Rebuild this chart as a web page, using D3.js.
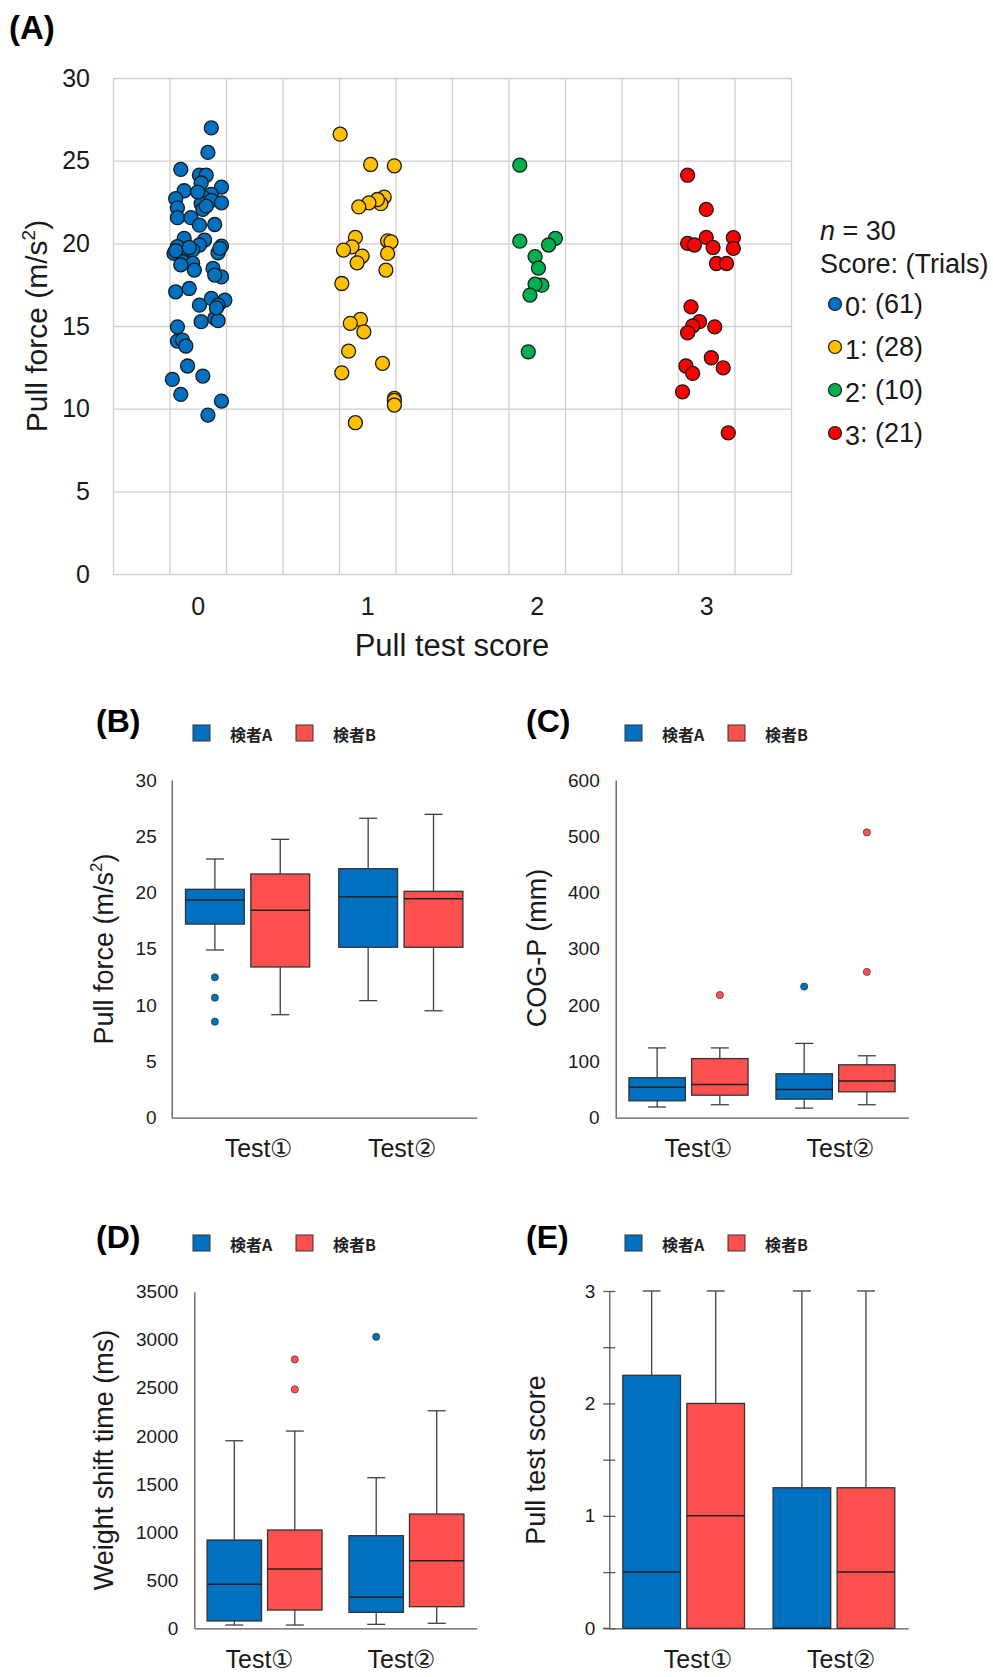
<!DOCTYPE html>
<html>
<head>
<meta charset="utf-8">
<script src="https://cdn.jsdelivr.net/npm/d3@7"></script>
<style>
  body { margin: 0; background: #fff; }
  svg { display: block; font-family: "Liberation Sans", Arial, "Noto Sans CJK JP", sans-serif; }
</style>
</head>
<body>
<svg id="fig" width="993" height="1677"></svg>
<script>
// ---- (A) scatter data: [x position (score + jitter), pull force] ----
const scoreCats = [0, 1, 2, 3];
const scoreColors = ["#0070C0", "#FFC000", "#00B050", "#FF0000"];
const trials = [61, 28, 10, 21];
const score0 = [[0.08,26.98],[0.06,25.5],[-0.10,24.47],[0.01,24.12],[0.05,24.12],[0.02,23.65],[0.14,23.4],[-0.08,23.18],
  [-0.13,22.7],[0.08,22.96],[0.03,22.8],[0.02,22.4],[0.08,22.6],[0.14,22.45],[-0.12,22.15],[0.03,22.05],[-0.12,21.55],
  [-0.04,21.55],[0.01,21.1],[0.10,21.14],[-0.08,20.3],[0.04,20.2],[0.14,19.83],[-0.14,19.39],[-0.08,19.39],[0.01,19.9],
  [-0.03,19.6],[0.12,19.43],[-0.12,19.8],[-0.09,18.9],[-0.03,18.8],[-0.02,18.38],[0.09,18.48],[0.14,17.97],[0.10,18.08],
  [-0.13,17.07],[-0.05,17.27],[0.01,16.26],[0.08,16.67],[0.16,16.56],[0.12,16.26],[0.02,15.26],[0.10,15.46],[0.12,15.32],
  [-0.12,14.95],[-0.12,14.09],[-0.09,14.15],[-0.07,13.79],[-0.06,12.58],[-0.15,11.77],[0.03,11.97],[-0.10,10.86],
  [0.14,10.46],[0.06,9.61],[-0.13,19.55],[-0.05,19.75],[0.00,23.1],[0.05,22.25],[0.11,16.1],[-0.10,18.7],[0.13,19.7]];
const score1 = [[0.84,26.6],[1.02,24.77],[1.16,24.69],[1.10,22.8],[1.08,22.4],[1.06,22.65],[1.01,22.45],[0.95,22.2],
  [0.93,20.36],[1.12,20.15],[1.14,20.09],[0.91,19.79],[0.86,19.59],[0.97,19.23],[0.94,18.82],[1.12,19.39],[1.11,18.38],
  [0.85,17.57],[0.96,15.4],[0.90,15.16],[0.98,14.65],[0.89,13.48],[1.09,12.74],[0.85,12.17],[1.16,10.62],[1.16,10.5],
  [1.16,10.22],[0.93,9.15]];
const score2 = [[1.90,24.73],[1.90,20.13],[2.11,20.3],[2.07,19.9],[1.99,19.2],[2.01,18.5],[2.03,17.47],[1.99,17.53],
  [1.96,16.87],[1.95,13.44]];
const score3 = [[2.89,24.12],[3.00,22.05],[2.89,20.0],[2.93,19.9],[3.00,20.36],[3.04,19.75],[3.16,20.34],[3.16,19.69],
  [3.06,18.78],[3.12,18.78],[2.91,16.16],[2.96,15.26],[2.92,15.0],[2.89,14.59],[3.05,14.95],[3.03,13.08],[2.88,12.58],
  [2.92,12.13],[3.10,12.47],[2.86,11.02],[3.13,8.54]];
const scatterSeries = [score0, score1, score2, score3];

// ---- (B)-(E) box plots ----
const tests = ["Test①", "Test②"];
const examiners = ["検者A", "検者B"];
const boxColors = ["#0070C0", "#FF5050"];

const forceBox = [
  { test: "Test①", ex: "検者A", lo: 14.9, q1: 17.2, med: 19.34, q3: 20.29, hi: 22.98, out: [12.47, 10.66, 8.53] },
  { test: "Test①", ex: "検者B", lo: 9.15, q1: 13.39, med: 18.42, q3: 21.65, hi: 24.73, out: [] },
  { test: "Test②", ex: "検者A", lo: 10.4, q1: 15.14, med: 19.63, q3: 22.12, hi: 26.6, out: [] },
  { test: "Test②", ex: "検者B", lo: 9.5, q1: 15.14, med: 19.46, q3: 20.11, hi: 26.95, out: [] }
];
const cogBox = [
  { test: "Test①", ex: "検者A", lo: 19, q1: 30, med: 54, q3: 71, hi: 124, out: [] },
  { test: "Test①", ex: "検者B", lo: 23, q1: 40, med: 59, q3: 105, hi: 124, out: [218] },
  { test: "Test②", ex: "検者A", lo: 17, q1: 33, med: 50, q3: 78, hi: 132, out: [233] },
  { test: "Test②", ex: "検者B", lo: 23, q1: 46, med: 65, q3: 94, hi: 110, out: [507, 259] }
];
const shiftBox = [
  { test: "Test①", ex: "検者A", lo: 34, q1: 76, med: 457, q3: 918, hi: 1950, out: [] },
  { test: "Test①", ex: "検者B", lo: 34, q1: 190, med: 616, q3: 1022, hi: 2051, out: [2796, 2484] },
  { test: "Test②", ex: "検者A", lo: 41, q1: 166, med: 322, q3: 963, hi: 1566, out: [3031] },
  { test: "Test②", ex: "検者B", lo: 52, q1: 225, med: 703, q3: 1188, hi: 2262, out: [] }
];
const scoreBox = [
  { test: "Test①", ex: "検者A", lo: 0, q1: 0, med: 0.5, q3: 2.25, hi: 3, out: [] },
  { test: "Test①", ex: "検者B", lo: 0, q1: 0, med: 1, q3: 2, hi: 3, out: [] },
  { test: "Test②", ex: "検者A", lo: 0, q1: 0, med: 0, q3: 1.25, hi: 3, out: [] },
  { test: "Test②", ex: "検者B", lo: 0, q1: 0, med: 0.5, q3: 1.25, hi: 3, out: [] }
];

const svg = d3.select("#fig");
const ink = "#1a1a1a";

// ================= (A) =================
{
  const L = 113, R = 791, T = 78, B = 574;
  const x = d3.scaleLinear().domain([-0.5, 3.5]).range([L, R]);
  const y = d3.scaleLinear().domain([0, 30]).range([B, T]);
  const g = svg.append("g");

  // grid (vertical every 1/3 score)
  const gridX = d3.range(13).map(k => -0.5 + k / 3);
  g.append("g").attr("transform", `translate(0,${B})`)
    .call(d3.axisBottom(x).tickValues(gridX).tickSize(-(B - T)).tickFormat(""))
    .call(a => a.select(".domain").remove())
    .selectAll("line").attr("stroke", "#d0d0d0").attr("stroke-width", 1.3);
  g.append("g").attr("transform", `translate(${L},0)`)
    .call(d3.axisLeft(y).tickValues(d3.range(0, 31, 5)).tickSize(-(R - L)).tickFormat(""))
    .call(a => a.select(".domain").remove())
    .selectAll("line").attr("stroke", "#d0d0d0").attr("stroke-width", 1.3);

  // tick labels
  g.append("g").attr("transform", `translate(${L},0)`)
    .call(d3.axisLeft(y).tickValues(d3.range(0, 31, 5)).tickSize(0).tickPadding(23))
    .call(a => a.select(".domain").remove())
    .selectAll("text").attr("font-size", 25).attr("fill", ink).attr("font-family", null);
  g.append("g").attr("transform", `translate(0,${B})`)
    .call(d3.axisBottom(x).tickValues(scoreCats).tickFormat(d3.format("d")).tickSize(0).tickPadding(23))
    .call(a => a.select(".domain").remove())
    .selectAll("text").attr("font-size", 25).attr("fill", ink).attr("font-family", null);

  // points
  scatterSeries.forEach((pts, i) => {
    g.append("g").selectAll("circle").data(pts).enter().append("circle")
      .attr("cx", d => x(d[0])).attr("cy", d => y(d[1])).attr("r", 7)
      .attr("fill", scoreColors[i]).attr("stroke", ink).attr("stroke-width", 1.3);
  });

  // titles
  svg.append("text").attr("x", 9).attr("y", 39).attr("font-size", 33).attr("font-weight", "bold").text("(A)");
  svg.append("text").attr("x", 452).attr("y", 656).attr("text-anchor", "middle").attr("font-size", 31)
    .attr("fill", ink).text("Pull test score");
  const yt = svg.append("text").attr("transform", "translate(47,326) rotate(-90)")
    .attr("text-anchor", "middle").attr("font-size", 30).attr("fill", ink);
  yt.append("tspan").text("Pull force (m/s");
  yt.append("tspan").attr("font-size", 19).attr("dy", -12).text("2");
  yt.append("tspan").attr("dy", 12).text(")");

  // legend
  const lg = svg.append("g").attr("font-size", 27).attr("fill", ink);
  const nt = lg.append("text").attr("x", 820).attr("y", 240);
  nt.append("tspan").attr("font-style", "italic").text("n");
  nt.append("tspan").text(" = 30");
  lg.append("text").attr("x", 820).attr("y", 273).text("Score: (Trials)");
  scoreCats.forEach((s, i) => {
    const cy = 304 + i * 43;
    lg.append("circle").attr("cx", 835).attr("cy", cy).attr("r", 6.5)
      .attr("fill", scoreColors[i]).attr("stroke", ink).attr("stroke-width", 1.2);
    const t = lg.append("text").attr("x", 845).attr("y", cy + 9);
    t.append("tspan").attr("dy", 3).text(s);
    t.append("tspan").attr("dy", -3).text(`: (${trials[i]})`);
  });
}

// ================= box plot panels =================
function boxPanel(cfg) {
  const g = svg.append("g");
  const y = d3.scaleLinear().domain(cfg.domain).range([cfg.yBottom, cfg.yTop]);
  const x0 = d3.scaleBand().domain(tests).range([cfg.axisX, cfg.axisRight]).paddingInner(0.19).paddingOuter(0.09);
  const x1 = d3.scaleBand().domain(examiners).range([0, x0.bandwidth()]).paddingInner(0.1);
  const color = d3.scaleOrdinal().domain(examiners).range(boxColors);
  const bw = x1.bandwidth(), cap = 9;

  // y axis
  const ya = g.append("g").attr("transform", `translate(${cfg.axisX},0)`)
    .call(d3.axisLeft(y).tickValues(cfg.ticks).tickSizeOuter(0)
      .tickSizeInner(cfg.tickMarks ? 6 : 0).tickPadding(cfg.tickPad)
      .tickFormat(d => cfg.labelEvery ? (Number.isInteger(d) ? d : "") : d));
  ya.select(".domain").attr("stroke", "#595959").attr("stroke-width", 1.3);
  ya.selectAll("line").attr("stroke", "#595959").attr("stroke-width", 1.3).attr("x1", cfg.tickMarks ? 6 : 0);
  ya.selectAll("text").attr("font-size", 19).attr("fill", ink).attr("font-family", null);

  // x axis
  const xa = g.append("g").attr("transform", `translate(0,${cfg.yBottom})`)
    .call(d3.axisBottom(x0).tickSize(0).tickPadding(22));
  xa.select(".domain").attr("stroke", "#595959").attr("stroke-width", 1.3);
  xa.selectAll("text").attr("font-size", 25).attr("fill", ink).attr("font-family", null)
    .attr("dx", (d, i) => cfg.labelDx[i]);
  if (cfg.tickMarks) {
    g.append("line").attr("x1", cfg.axisX - 6).attr("x2", cfg.axisX)
      .attr("y1", cfg.yBottom).attr("y2", cfg.yBottom).attr("stroke", "#595959").attr("stroke-width", 1.3);
  }

  // boxes
  const bx = g.selectAll(".bx").data(cfg.data).enter().append("g")
    .attr("transform", d => `translate(${x0(d.test) + x1(d.ex)},0)`);
  bx.append("line").attr("x1", bw / 2).attr("x2", bw / 2)
    .attr("y1", d => y(d.hi)).attr("y2", d => y(d.q3)).attr("stroke", "#404040").attr("stroke-width", 1.3);
  bx.append("line").attr("x1", bw / 2).attr("x2", bw / 2)
    .attr("y1", d => y(d.q1)).attr("y2", d => y(d.lo)).attr("stroke", "#404040").attr("stroke-width", 1.3);
  bx.append("line").attr("x1", bw / 2 - cap).attr("x2", bw / 2 + cap)
    .attr("y1", d => y(d.hi)).attr("y2", d => y(d.hi)).attr("stroke", "#404040").attr("stroke-width", 1.3);
  bx.filter(d => d.lo < d.q1).append("line").attr("x1", bw / 2 - cap).attr("x2", bw / 2 + cap)
    .attr("y1", d => y(d.lo)).attr("y2", d => y(d.lo)).attr("stroke", "#404040").attr("stroke-width", 1.3);
  bx.append("rect").attr("x", 0).attr("width", bw)
    .attr("y", d => y(d.q3)).attr("height", d => y(d.q1) - y(d.q3))
    .attr("fill", d => color(d.ex)).attr("stroke", "#333").attr("stroke-width", 1.3);
  bx.append("line").attr("x1", 0).attr("x2", bw)
    .attr("y1", d => y(d.med)).attr("y2", d => y(d.med)).attr("stroke", "#222").attr("stroke-width", 1.5);
  bx.selectAll("circle").data(d => d.out.map(v => ({ v, ex: d.ex }))).enter().append("circle")
    .attr("cx", bw / 2).attr("cy", d => y(d.v)).attr("r", 3.6)
    .attr("fill", d => color(d.ex)).attr("stroke", "#333").attr("stroke-width", 0.7);

  // panel label
  svg.append("text").attr("x", cfg.labelX).attr("y", cfg.labelY)
    .attr("font-size", 32).attr("font-weight", "bold").attr("fill", "#000").text(cfg.label);

  // legend
  examiners.forEach((e, i) => {
    const lx = cfg.legendX + i * 103;
    svg.append("rect").attr("x", lx).attr("y", cfg.legendY - 16).attr("width", 17).attr("height", 16)
      .attr("fill", boxColors[i]).attr("stroke", "#333").attr("stroke-width", 1);
    svg.append("text").attr("x", lx + 37).attr("y", cfg.legendY)
      .attr("font-family", "'Noto Sans CJK JP', sans-serif").attr("font-weight", "bold")
      .attr("font-size", 16).attr("fill", "#222").text(e);
  });

  // y title
  const t = svg.append("text").attr("transform", `translate(${cfg.titleX},${cfg.titleY}) rotate(-90)`)
    .attr("text-anchor", "middle").attr("font-size", 27).attr("fill", ink);
  if (cfg.sup) {
    t.append("tspan").text(cfg.title);
    t.append("tspan").attr("font-size", 17).attr("dy", -11).text("2");
    t.append("tspan").attr("dy", 11).text(")");
  } else {
    t.text(cfg.title);
  }
}

boxPanel({ label: "(B)", labelX: 96, labelY: 732, legendX: 193, legendY: 741,
  axisX: 171.7, axisRight: 476.7, yTop: 780, yBottom: 1117.7, domain: [0, 30], ticks: d3.range(0, 31, 5),
  tickPad: 15, title: "Pull force (m/s", sup: true, titleX: 113, titleY: 949, data: forceBox, labelDx: [11, 1] });

boxPanel({ label: "(C)", labelX: 526, labelY: 732, legendX: 625, legendY: 741,
  axisX: 615.7, axisRight: 908.3, yTop: 780, yBottom: 1117.7, domain: [0, 600], ticks: d3.range(0, 601, 100),
  tickPad: 16, title: "COG-P (mm)", titleX: 546, titleY: 948, data: cogBox, labelDx: [10, 5] });

boxPanel({ label: "(D)", labelX: 96, labelY: 1248, legendX: 193, legendY: 1251,
  axisX: 194.3, axisRight: 476.7, yTop: 1291.7, yBottom: 1628.3, domain: [0, 3500], ticks: d3.range(0, 3501, 500),
  tickPad: 16, title: "Weight shift time (ms)", titleX: 113, titleY: 1460, data: shiftBox, labelDx: [-5, -5] });

boxPanel({ label: "(E)", labelX: 526, labelY: 1248, legendX: 625, legendY: 1251,
  axisX: 609.3, axisRight: 908.3, yTop: 1291, yBottom: 1628.3, domain: [0, 3], ticks: d3.range(0, 3.01, 0.5),
  tickMarks: true, labelEvery: true, tickPad: 8, title: "Pull test score", titleX: 545, titleY: 1460, data: scoreBox,
  labelDx: [14, 7] });
</script>
</body>
</html>
